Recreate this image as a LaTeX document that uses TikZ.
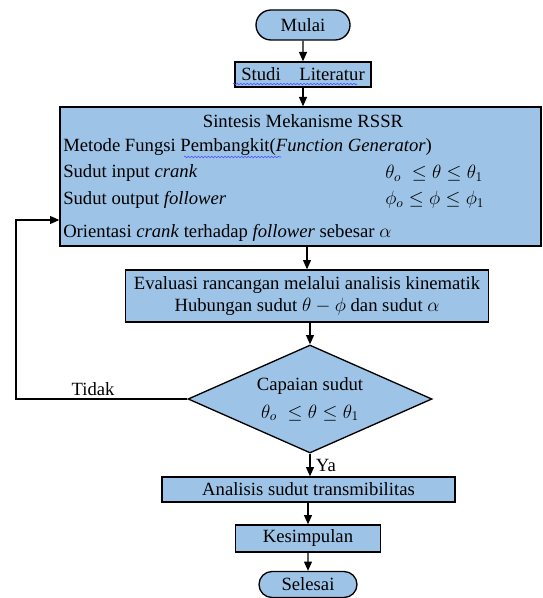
\documentclass[tikz,border=0pt]{standalone}
\usepackage{fontspec}
\setmainfont{Liberation Serif}
\usetikzlibrary{shapes.geometric,shapes.misc,arrows.meta,decorations.pathmorphing}
\definecolor{boxblue}{RGB}{157,195,230}
\begin{document}
\begin{tikzpicture}[x=0.75pt,y=-0.75pt,font=\fontsize{14}{17}\selectfont,
	box/.style={draw,line width=1pt,fill=boxblue,inner sep=0pt},
	term/.style={box,rounded rectangle},
	arr/.style={line width=0.9pt,-{Triangle[length=7pt,width=6pt]}},
	wavy/.style={blue!70,line width=0.4pt,decorate,decoration={snake,amplitude=0.6pt,segment length=2.5pt}}]
	\useasboundingbox (0,0) rectangle (542,598);
	\node[term,minimum width=70.5pt,minimum height=22.5pt](mulai) at (303,25){Mulai};
	\node[box,minimum width=102pt,minimum height=18.75pt](studi) at (303,74.5){Studi\quad Literatur};
	\node[box,minimum width=360.75pt,minimum height=104.25pt](sintesis) at (300.5,176.5){};
	\node(judul) at (303,121){Sintesis Mekanisme RSSR};
	\node[anchor=west,inner sep=0pt](metode) at (63,147){Metode Fungsi Pembangkit(\textit{Function Generator})};
	\node[anchor=west,inner sep=0pt](input) at (63,173){Sudut input \textit{crank}};
	\node[anchor=west,inner sep=0pt](output) at (63,200){Sudut output \textit{follower}};
	\node[anchor=west,inner sep=0pt](orientasi) at (63,233){Orientasi \textit{crank} terhadap \textit{follower} sebesar $\alpha$};
	\node[anchor=west,inner sep=0pt](theta) at (385,173){$\theta_{o}\;\le\theta\le\theta_{1}$};
	\node[anchor=west,inner sep=0pt](phi) at (385,200){$\phi_{o}\le\phi\le\phi_{1}$};
	\node[box,minimum width=272.25pt,minimum height=39pt,align=center](evaluasi) at (307,296){Evaluasi rancangan melalui analisis kinematik\\Hubungan sudut $\theta-\phi$ dan sudut $\alpha$};
	\node[box,diamond,aspect=2.26,minimum width=183pt,minimum height=81pt,align=center](capaian) at (310,399){Capaian sudut\\[4pt]$\theta_{o}\;\le\theta\le\theta_{1}$};
	\node[box,minimum width=219.75pt,minimum height=18.75pt](analisis) at (308.5,489.5){Analisis sudut transmibilitas};
	\node[box,minimum width=108.75pt,minimum height=20.25pt](kesimpulan) at (308,538.5){Kesimpulan};
	\node[term,minimum width=73.5pt,minimum height=19.5pt](selesai) at (308,584.5){Selesai};
	\draw[wavy](233,84)--(357,84);
	\draw[wavy](184,157)--(281,157);
	\draw[arr](mulai)--(studi);
	\draw[arr](studi)--(studi|-sintesis.north);
	\draw[arr](evaluasi.north|-sintesis.south)--(evaluasi);
	\draw[arr](capaian.north|-evaluasi.south)--(capaian);
	\draw[arr](capaian)--(capaian|-analisis.north)node[midway,right,inner sep=4pt]{Ya};
	\draw[arr](kesimpulan.north|-analisis.south)--(kesimpulan);
	\draw[arr](kesimpulan)--(selesai);
	\coordinate(balik) at (16,399);
	\draw[arr](capaian.west)--(balik)node[pos=0.55,above,inner sep=2pt]{Tidak}|-(sintesis.west|-0,220);
\end{tikzpicture}
\end{document}
